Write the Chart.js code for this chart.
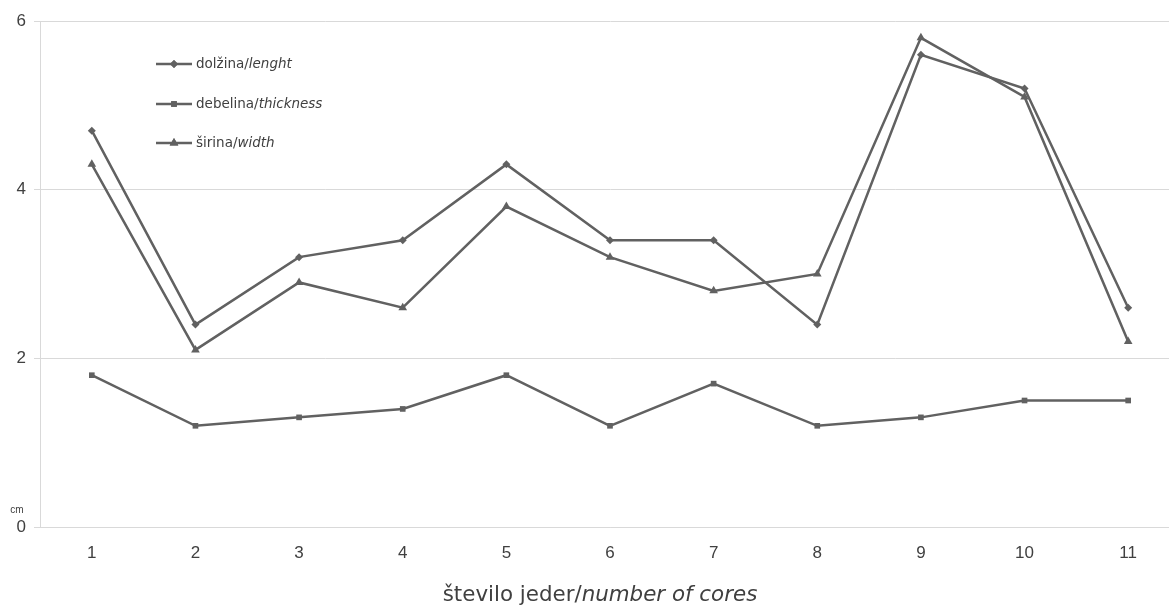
<!DOCTYPE html>
<html>
<head>
<meta charset="utf-8">
<script src="https://cdn.jsdelivr.net/npm/chart.js@4/dist/chart.umd.min.js"></script>
<style>
  html, body { margin: 0; padding: 0; background: #ffffff; overflow: hidden; width: 1169px; height: 605px; }
  #wrap { width: 1185px; height: 605px; position: relative; }
</style>
</head>
<body>
<div id="wrap"><canvas id="c"></canvas></div>
<script>
// Core numbers on the x axis
const categories = ['1', '2', '3', '4', '5', '6', '7', '8', '9', '10', '11'];
// Measurements in cm
const dolzina  = [4.7, 2.4, 3.2, 3.4, 4.3, 3.4, 3.4, 2.4, 5.6, 5.2, 2.6];
const debelina = [1.8, 1.2, 1.3, 1.4, 1.8, 1.2, 1.7, 1.2, 1.3, 1.5, 1.5];
const sirina   = [4.3, 2.1, 2.9, 2.6, 3.8, 3.2, 2.8, 3.0, 5.8, 5.1, 2.2];
const yTicks = [0, 2, 4, 6];
// Legend labels: plain part + italic part
const legendLabels = [['dolžina/', 'lenght'], ['debelina/', 'thickness'], ['širina/', 'width']];
const axisTitle = ['število jeder/', 'number of cores'];

const LINE = '#616161';
const GRID = '#d9d9d9';

function ds(label, data, style, radius) {
  return {
    label, data,
    borderColor: LINE, backgroundColor: LINE,
    borderWidth: 2.5, pointStyle: style, pointRadius: radius,
    pointBorderWidth: 0, pointHoverRadius: radius, tension: 0
  };
}

// Legend with line + marker samples and the x-axis title, drawn on the canvas
const customText = {
  id: 'customText',
  afterDraw(chart) {
    const ctx = chart.ctx;
    ctx.save();
    const lx = 156, ly = [64, 104, 143];
    chart.data.datasets.forEach((d, i) => {
      const y = ly[i];
      ctx.strokeStyle = LINE; ctx.lineWidth = 2.5;
      ctx.beginPath(); ctx.moveTo(lx, y); ctx.lineTo(lx + 36, y); ctx.stroke();
      ctx.fillStyle = LINE;
      Chart.helpers.drawPoint(ctx, { pointStyle: d.pointStyle, radius: d.pointRadius, borderWidth: 0 }, lx + 18, y);
      ctx.fill();
      ctx.textBaseline = 'middle';
      ctx.fillStyle = '#404040';
      ctx.font = '13.5px "DejaVu Sans"';
      const [a, b] = legendLabels[i];
      ctx.fillText(a, lx + 40, y);
      const w = ctx.measureText(a).width;
      ctx.font = 'italic 13.5px "DejaVu Sans"';
      ctx.fillText(b, lx + 40 + w, y);
    });
    // axis title
    const fs = 21.4;
    ctx.font = fs + 'px "DejaVu Sans"';
    const w1 = ctx.measureText(axisTitle[0]).width;
    ctx.font = 'italic ' + fs + 'px "DejaVu Sans"';
    const w2 = ctx.measureText(axisTitle[1]).width;
    let x0 = 600 - (w1 + w2) / 2;
    ctx.fillStyle = '#404040';
    ctx.textBaseline = 'middle';
    ctx.font = fs + 'px "DejaVu Sans"';
    ctx.fillText(axisTitle[0], x0, 595);
    ctx.font = 'italic ' + fs + 'px "DejaVu Sans"';
    ctx.fillText(axisTitle[1], x0 + w1, 595);
    // unit label
    ctx.font = '10px "Liberation Sans"';
    ctx.fillStyle = '#404040';
    ctx.textAlign = 'center';
    ctx.fillText('cm', 17, 510);
    ctx.restore();
  }
};

new Chart(document.getElementById('c'), {
  type: 'line',
  data: {
    labels: categories,
    datasets: [
      ds('dolžina/lenght', dolzina, 'rectRot', 4),
      ds('debelina/thickness', debelina, 'rect', 4),
      ds('širina/width', sirina, 'triangle', 5)
    ]
  },
  options: {
    responsive: true, maintainAspectRatio: false, animation: false,
    layout: { padding: { top: 21, right: 0, left: 0, bottom: 0 } },
    plugins: { legend: { display: false }, tooltip: { enabled: false } },
    scales: {
      x: {
        offset: true,
        grid: { display: false, drawTicks: false },
        border: { display: true, color: GRID, width: 1 },
        ticks: { color: '#404040', font: { family: 'Liberation Sans', size: 17 }, padding: 16, maxRotation: 0 },
        afterFit(s) { s.height = 78; }
      },
      y: {
        min: 0, max: 6,
        afterBuildTicks(s) { s.ticks = yTicks.map(v => ({ value: v })); },
        grid: { color: GRID, lineWidth: 1, drawTicks: true, tickLength: 6 },
        border: { display: true, color: GRID, width: 1 },
        ticks: { color: '#404040', font: { family: 'Liberation Sans', size: 17 }, padding: 8 },
        afterFit(s) { s.width = 40; }
      }
    }
  },
  plugins: [customText]
});
</script>
</body>
</html>
